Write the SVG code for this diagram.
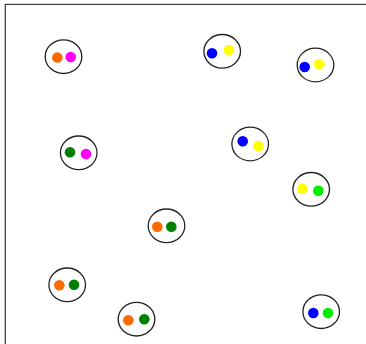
<svg xmlns="http://www.w3.org/2000/svg" width="366" height="344" viewBox="0 0 366 344">
<style>
.cell{fill:#fff;stroke:#222;stroke-width:1.3}
.d{stroke:none}
.or{fill:#ff6a00}.mg{fill:#ff00ff}.bl{fill:#0000ff}.ye{fill:#ffff00}.gr{fill:#008000}.li{fill:#00ee00}
.frame{stroke:#444;stroke-width:1.3;fill:none}
</style>
<rect width="366" height="344" fill="#fff"/>
<path class="frame" d="M5.3,344 V4.3 H366"/>
<g id="n1"><ellipse class="cell" cx="63.5" cy="56.7" rx="18.3" ry="16.8"/><circle class="d or" cx="57.3" cy="57.5" r="5.3"/><circle class="d mg" cx="70.7" cy="57" r="5.3"/></g>
<g id="n2"><ellipse class="cell" cx="222.2" cy="51.3" rx="18.3" ry="16.8"/><circle class="d bl" cx="212" cy="53.3" r="5.3"/><circle class="d ye" cx="229" cy="50" r="5.3"/></g>
<g id="n3"><ellipse class="cell" cx="315.5" cy="65" rx="18.3" ry="16.8"/><circle class="d bl" cx="304.7" cy="67" r="5.3"/><circle class="d ye" cx="319.3" cy="64.3" r="5.3"/></g>
<g id="n4"><ellipse class="cell" cx="78.7" cy="152.8" rx="18.3" ry="16.8"/><circle class="d gr" cx="70" cy="152.3" r="5.3"/><circle class="d mg" cx="86" cy="154" r="5.3"/></g>
<g id="n5"><ellipse class="cell" cx="250.2" cy="144" rx="18.3" ry="16.8"/><circle class="d bl" cx="242.7" cy="141.3" r="5.3"/><circle class="d ye" cx="258.3" cy="146" r="5.3"/></g>
<g id="n6"><ellipse class="cell" cx="311.2" cy="189.3" rx="18.3" ry="16.8"/><circle class="d ye" cx="302.3" cy="188.7" r="5.3"/><circle class="d li" cx="318.3" cy="190.7" r="5.3"/></g>
<g id="n7"><ellipse class="cell" cx="166.5" cy="225.8" rx="18.3" ry="16.8"/><circle class="d or" cx="157.3" cy="226.7" r="5.3"/><circle class="d gr" cx="171.3" cy="226.7" r="5.3"/></g>
<g id="n8"><ellipse class="cell" cx="67.2" cy="284.8" rx="18.3" ry="16.8"/><circle class="d or" cx="59.3" cy="285.3" r="5.3"/><circle class="d gr" cx="74" cy="284.7" r="5.3"/></g>
<g id="n9"><ellipse class="cell" cx="136.5" cy="319.2" rx="18.3" ry="16.8"/><circle class="d or" cx="128.3" cy="320.3" r="5.3"/><circle class="d gr" cx="144.3" cy="319.3" r="5.3"/></g>
<g id="n10"><ellipse class="cell" cx="321.2" cy="311.7" rx="18.3" ry="16.8"/><circle class="d bl" cx="313.3" cy="313" r="5.3"/><circle class="d li" cx="328" cy="313" r="5.3"/></g>
<g id="connectors"></g>
</svg>
